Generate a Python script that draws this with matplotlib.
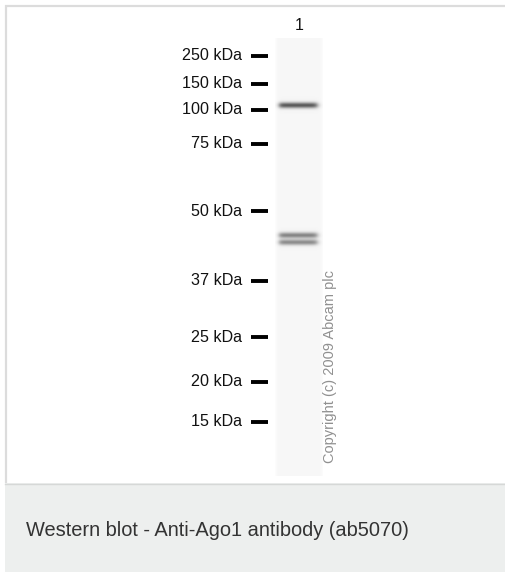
import numpy as np
import matplotlib
matplotlib.use("Agg")
import matplotlib.pyplot as plt
from matplotlib.patches import Rectangle

plt.rcParams['font.family'] = ['Liberation Sans', 'DejaVu Sans']

# ---- data ----
marker_labels = ['250 kDa', '150 kDa', '100 kDa', '75 kDa', '50 kDa',
                 '37 kDa', '25 kDa', '20 kDa', '15 kDa']
marker_migration = [56, 83.5, 110, 143.5, 211, 280.5, 337, 381.5, 422]
band_migration = [105, 235, 242]
band_intensity = [0.62, 0.45, 0.42]
lane_labels = ['1']
caption = 'Western blot - Anti-Ago1 antibody (ab5070)'
copyright_text = 'Copyright (c) 2009 Abcam plc'

W, H = 506, 573
fig = plt.figure(figsize=(W / 100, H / 100), dpi=100)
fig.patch.set_facecolor('white')
ax = fig.add_axes([0, 0, 1, 1])
ax.set_xlim(0, W)
ax.set_ylim(H, 0)
ax.axis('off')

# frame and caption panel
ax.add_patch(Rectangle((5, 5), W - 5, 478, facecolor='white', edgecolor='none'))
ax.plot([6, 6], [5, 483], color='#dcdcdc', lw=1.6, solid_capstyle='butt')
ax.plot([5, W], [6, 6], color='#dcdcdc', lw=1.6, solid_capstyle='butt')
ax.add_patch(Rectangle((5, 483), W - 5, 89, facecolor='#edefee', edgecolor='none'))
ax.plot([5, W], [483.5, 483.5], color='#d6d8d7', lw=1.0)

# lane image built from band data
lane_x0, lane_x1 = 275, 323
lane_y0, lane_y1 = 38, 476
ys = np.arange(lane_y0, lane_y1, 0.5)
xs = np.arange(lane_x0, lane_x1, 0.5)
prof = np.zeros_like(ys)
for m, a in zip(band_migration, band_intensity):
    prof += a * np.exp(-0.5 * ((ys - m) / 2.0) ** 2)
xprof = 1 / (1 + np.exp(-(xs - 279) / 1.3)) * 1 / (1 + np.exp((xs - 317) / 1.5))
dark = np.clip(prof[:, None] * xprof[None, :], 0, 1)
bg = 0.035 * (1 / (1 + np.exp(-(xs - 276) / 1.0)) * 1 / (1 + np.exp((xs - 322) / 1.0)))
img = 1 - np.clip(dark + bg[None, :], 0, 1)
ax.imshow(img, cmap='gray', vmin=0, vmax=1, extent=(lane_x0, lane_x1, lane_y1, lane_y0),
          aspect='auto', interpolation='bilinear', zorder=2)

# markers
for lab, m in zip(marker_labels, marker_migration):
    ax.text(242, m, lab, ha='right', va='center', fontsize=11.6, color='#111111')
    ax.plot([251, 268], [m, m], color='black', lw=2.8, solid_capstyle='butt')

# lane label
ax.text(299, 26, lane_labels[0], ha='center', va='center', fontsize=11.5, color='#111111')

# copyright
ax.text(330, 463, copyright_text, rotation=90, ha='center', va='bottom',
        fontsize=10.5, color='#909090')

# caption
ax.text(26, 530, caption, ha='left', va='center', fontsize=14.4, color='#333333')

fig.savefig('out.png', dpi=100)
